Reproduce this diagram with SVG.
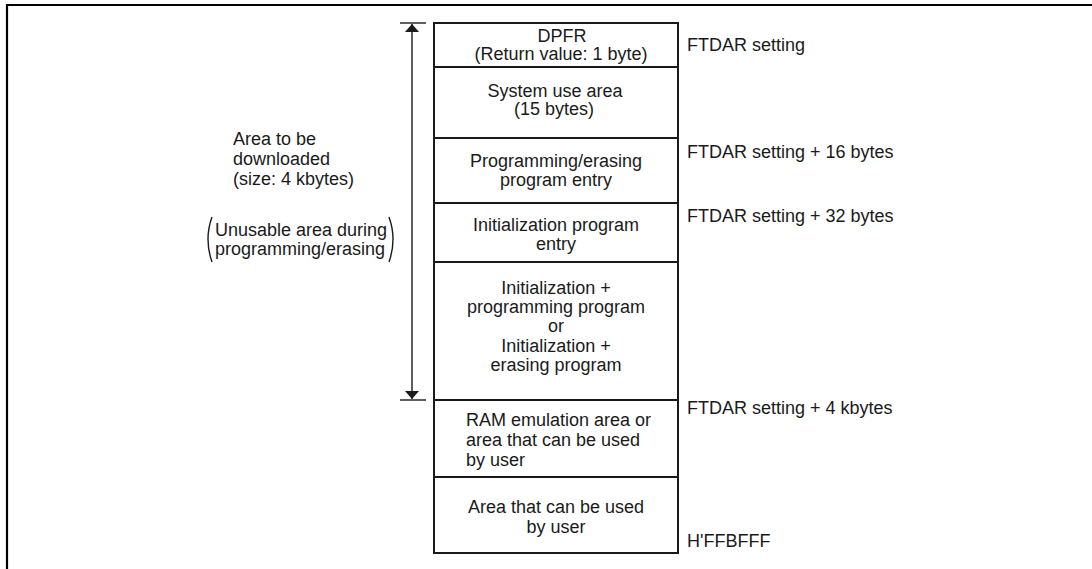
<svg xmlns="http://www.w3.org/2000/svg" width="1092" height="569" viewBox="0 0 1092 569">
<style>
text{font-family:"Liberation Sans",Arial,sans-serif;font-size:18px;fill:#1a1a1a}
.c{text-anchor:middle}
.box{fill:#fff;stroke:#1a1a1a;stroke-width:2}
.ln{stroke:#1a1a1a;stroke-width:1.4;fill:none}
</style>
<defs>
<marker id="ah" viewBox="0 0 8 14" refX="8" refY="7" markerWidth="8" markerHeight="14" markerUnits="userSpaceOnUse" orient="auto">
<path d="M0,0 L8,7 L0,14 Z" fill="#1a1a1a"/>
</marker>
</defs>
<rect width="1092" height="569" fill="#fff"/>
<path d="M7,569 V5 H1092" fill="none" stroke="#000" stroke-width="2.2"/>

<g id="dpfr"><rect class="box" x="434" y="23" width="244" height="44"/>
<text class="c" x="562" y="42">DPFR</text><text class="c" x="561" y="60">(Return value: 1 byte)</text></g>
<g id="system-use"><rect class="box" x="434" y="67" width="244" height="71"/>
<text class="c" x="555" y="97">System use area</text><text class="c" x="554" y="115">(15 bytes)</text></g>
<g id="pe-entry"><rect class="box" x="434" y="138" width="244" height="65"/>
<text class="c" x="556" y="167">Programming/erasing</text><text class="c" x="556" y="186">program entry</text></g>
<g id="init-entry"><rect class="box" x="434" y="203" width="244" height="59"/>
<text class="c" x="556" y="231">Initialization program</text><text class="c" x="556" y="250">entry</text></g>
<g id="init-prog"><rect class="box" x="434" y="262" width="244" height="138"/>
<text class="c" x="556" y="294">Initialization +</text><text class="c" x="556" y="313">programming program</text><text class="c" x="556" y="332">or</text><text class="c" x="556" y="352">Initialization +</text><text class="c" x="556" y="371">erasing program</text></g>
<g id="ram-emu"><rect class="box" x="434" y="400" width="244" height="77"/>
<text x="466" y="426">RAM emulation area or</text><text x="466" y="446">area that can be used</text><text x="466" y="466">by user</text></g>
<g id="user-area"><rect class="box" x="434" y="477" width="244" height="76"/>
<text class="c" x="556" y="513">Area that can be used</text><text class="c" x="556" y="533">by user</text></g>

<g id="addr-labels">
<text x="687" y="51">FTDAR setting</text>
<text x="687" y="158">FTDAR setting + 16 bytes</text>
<text x="687" y="222">FTDAR setting + 32 bytes</text>
<text x="687" y="414">FTDAR setting + 4 kbytes</text>
<text x="687" y="547">H'FFBFFF</text>
</g>

<g id="download-label">
<text x="233" y="145">Area to be</text>
<text x="233" y="165">downloaded</text>
<text x="233" y="185">(size: 4 kbytes)</text>
<text x="215" y="236">Unusable area during</text>
<text x="215" y="255">programming/erasing</text>
<path class="ln" d="M212,217 Q204,239 212,262"/>
<path class="ln" d="M389,217 Q397,239 389,262"/>
</g>

<g id="connectors">
<line class="ln" x1="400" y1="23" x2="426" y2="23"/>
<line class="ln" x1="400" y1="400" x2="426" y2="400"/>
<line class="ln" x1="412" y1="200" x2="412" y2="24" marker-end="url(#ah)"/>
<line class="ln" x1="412" y1="200" x2="412" y2="399" marker-end="url(#ah)"/>
</g>
</svg>
